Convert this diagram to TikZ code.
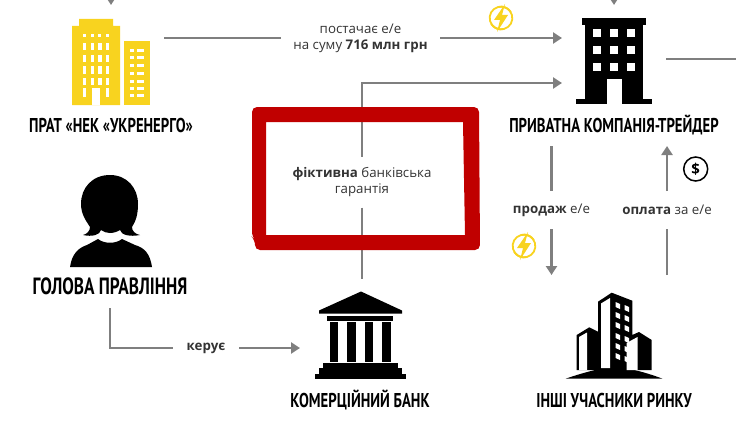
\documentclass[tikz,border=0pt]{standalone}
\usepackage{fontspec}
\setmainfont{Open Sans}
\newfontfamily\namefont[FakeStretch=0.735]{PT Sans}
\usetikzlibrary{arrows.meta}
\usetikzlibrary{positioning}
\definecolor{flowgray}{HTML}{7F7F7F}
\definecolor{boxred}{HTML}{C00000}
\definecolor{nekyellow}{HTML}{F8D31F}
\definecolor{textgray}{HTML}{333333}
\tikzset{
  flow/.style={line width=2.8pt,flowgray},
  anchorbox/.style={inner sep=0pt,outer sep=0pt},
  caption/.style={inner sep=0pt,outer sep=0pt,align=center,text=textgray,font=\fontsize{13.3}{16}\selectfont},
  title/.style={inner sep=0pt,outer sep=0pt,text=black,font=\namefont\bfseries\fontsize{20}{21}\selectfont},
  bolt/.pic={
    \draw [nekyellow,line width=1.8pt] (-3,-11) arc (-105:150:11.4);
    \draw [nekyellow,line width=1.8pt] (3,11) arc (75:330:11.4);
    \fill [nekyellow] (4,-14)-- (-7,2)-- (-1,2)-- (-4,14)-- (7,-3)-- (1,-3)-- cycle;
  }
}
\begin{document}
\begin{tikzpicture}[line cap=butt,line join=miter,>={Triangle[length=9pt,width=11pt]},x=1pt,y=-1pt]
\useasboundingbox (0,0) rectangle (736,436);
\node [anchorbox,minimum width=106pt,minimum height=66pt] (nek) at (111,38) {};
\node [anchorbox,minimum width=104pt,minimum height=108pt] (trader) at (614,59) {};
\node [anchorbox,minimum width=124pt,minimum height=138pt] (bank) at (362,348) {};
\node [anchorbox,minimum width=120pt,minimum height=40pt] (market) at (612,295) {};
\node [title] (nekname) at (111,125) {ПРАТ «НЕК «УКРЕНЕРГО»};
\node [title,minimum height=42pt] (tradername) at (614,125) {ПРИВАТНА КОМПАНІЯ-ТРЕЙДЕР};
\node [title,minimum height=44pt,font=\namefont\bfseries\fontsize{23.5}{24}\selectfont] (headname) at (110,286) {ГОЛОВА ПРАВЛІННЯ};
\node [title] (bankname) at (360,400) {КОМЕРЦІЙНИЙ БАНК};
\node [title] (marketname) at (614,400) {ІНШІ УЧАСНИКИ РИНКУ};
\node [caption,minimum width=159pt] (supply) at (360.5,38) {постачає е/е\\на суму \textbf{716 млн грн}};
\node [caption,minimum height=51pt] (guarantee) at (362,182) {\textbf{фіктивна} банківська\\гарантія};
\node [caption,minimum height=38pt] (sale) at (551.5,210) {\textbf{продаж} е/е};
\node [caption,minimum height=38pt] (payment) at (667,210) {\textbf{оплата} за е/е};
\node [caption,minimum width=66pt] (control) at (206,348) {\textbf{керує}};
\coordinate (nektop) at (111,-14);
\coordinate (tradertop) at (614,-14);
\coordinate (traderout) at (740,59);
\coordinate (traderin) at (562,83);
\draw [flow,->] (nektop)-- (nek.north);
\draw [flow,->] (tradertop)-- (trader.north);
\draw [flow] (nek.east)-- (supply.west);
\draw [flow,->] (supply.east)-- (supply.east -| trader.west);
\draw [flow] (trader.east)-- (traderout);
\draw [flow,->] (guarantee.north) |- (traderin);
\draw [flow] (guarantee.south)-- (bank.north);
\draw [flow] (sale.north |- tradername.south)-- (sale.north);
\draw [flow,->] (sale.south)-- (sale.south |- market.north);
\draw [flow] (payment.south |- market.north)-- (payment.south);
\draw [flow,->] (payment.north)-- (payment.north |- tradername.south);
\draw [flow] (headname.south) |- (control.west);
\draw [flow,->] (control.east)-- (bank.west);
\fill [boxred,even odd rule] [rounded corners=5pt] (252,107) -- (479,107) -- (480,250) -- (255,250) -- (255,240) -- (252,237) -- cycle
  [sharp corners] (266,122) -- (463,122) -- (465,235) -- (266,235) -- cycle;
\fill [nekyellow] (72,26)-- (79,26)-- (79,19)-- (113,19)-- (113,26)-- (120,26)-- (120,105)-- (72,105)-- cycle;
\fill [nekyellow] (124,41) rectangle (150,105);
\foreach \x in {82.5,90.5,98,105.5} {
  \fill [white] (\x,34.5) rectangle +(3,3);
  \foreach \y in {43,55,66.5,77.5} \fill [white] (\x,\y) rectangle +(3.5,7.5);
}
\foreach \x in {82.5,105.5} \fill [white] (\x,88) rectangle +(3.5,9);
\fill [white] (91.5,88) rectangle (100,105);
\foreach \x in {130,137,140.5} \foreach \y in {49,56.5,64,72,79.5,87,94} \fill [white] (\x,\y) rectangle +(3.5,3);
\fill (582,18) rectangle (646,25);
\fill (585,25) rectangle (643,99);
\fill (576,99) rectangle (652,104);
\fill [white] (607,79) rectangle (622,104);
\foreach \x in {592.5,610,627} \foreach \y in {29,46.5,63.5} \fill [white] (\x,\y) rectangle +(8,8);
\fill (110,175) .. controls (92,175) and (81,188) .. (81,204) .. controls (81,215) and (87,222) .. (90,227) .. controls (90,231) and (87,234) .. (83,235) .. controls (92,237) and (100,235) .. (101,230) .. controls (104,232) and (107,233) .. (110,233) .. controls (113,233) and (117,232) .. (120,230) .. controls (121,235) and (130,237) .. (140,235) .. controls (135,234) and (132,231) .. (132,227) .. controls (136,221) and (138,214) .. (138,204) .. controls (138,188) and (127,175) .. (110,175) -- cycle;
\fill (70,267) .. controls (72,254) and (78,248) .. (87,245) -- (98,239) .. controls (104,244) and (116,244) .. (122,239) -- (135,245) .. controls (145,248) and (150,254) .. (152,267) -- cycle;
\fill (361,291.5)-- (402,310.5)-- (402,313.5)-- (319,313.5)-- (319,310.5)-- cycle;
\fill (327,315.7) rectangle (393,320.7);
\foreach \x in {330,347.3,364.7,382.3} \fill (\x,322) rectangle +(8.4,40);
\fill (323,363.3) rectangle (397.7,368);
\fill (319,368) rectangle (401.7,374);
\fill (314.7,374) rectangle (406,379);
\fill (565.5,378.7) .. controls (585,372) and (605,367) .. (614,367) .. controls (625,367) and (645,372) .. (662.5,378.7) -- cycle;
\fill (598,301.7)-- (611.7,292.7)-- (632.3,300.7)-- (632.3,335)-- (639,332)-- (651.7,340)-- (651.7,370)-- (576.7,370)-- (576.7,335)-- (589.3,327.3)-- (598,331.7)-- cycle;
\fill [white] (601,303.5)-- (610,298)-- (610,368)-- (601,368)-- cycle;
\fill [white] (579,337)-- (587,332.5)-- (587,370)-- (579,370)-- cycle;
\fill [white] (626.5,343)-- (637.5,337)-- (637.5,370)-- (626.5,370)-- cycle;
\foreach \y in {302,312,322,333,343,353} {
  \fill [white] (615.5,\y)-- (620,\y+2)-- (620,\y+7)-- (615.5,\y+5)-- cycle;
  \fill [white] (624.5,\y+3)-- (629,\y+5)-- (629,\y+10)-- (624.5,\y+8)-- cycle;
}
\path (501,18) pic {bolt};
\path (524,246) pic {bolt};
\node [circle,draw,line width=1.5pt,minimum size=24pt,inner sep=0pt,font=\bfseries\fontsize{15}{15}\selectfont] (dollar) at (695.7,169) {\$};
\end{tikzpicture}
\end{document}
